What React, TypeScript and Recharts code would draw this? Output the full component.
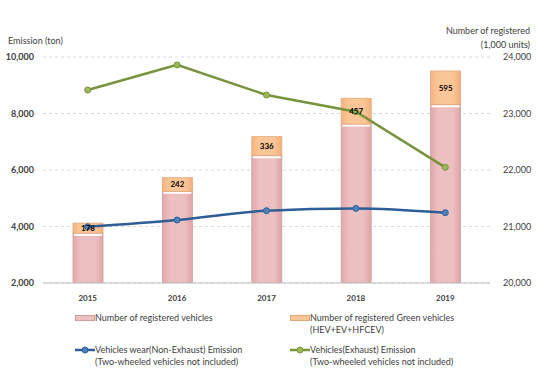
// Vehicle emission vs. registered vehicles (combo chart)
import React from "react";
import {
  ComposedChart,
  Bar,
  Line,
  XAxis,
  YAxis,
  CartesianGrid,
  LabelList,
} from "recharts";

const years = ["2015", "2016", "2017", "2018", "2019"];
// registered vehicles excluding green ones (1,000 units)
const registered = [20882, 21622, 22254, 22812, 23157];
// green vehicles HEV+EV+HFCEV (1,000 units)
const greenVehicles = [178, 242, 336, 457, 595];
// emissions (ton)
const nonExhaust = [3990, 4230, 4560, 4640, 4490];
const exhaust = [8830, 9720, 8655, 8060, 6095];

const leftTicks = [2000, 4000, 6000, 8000, 10000];
const rightTicks = [20000, 21000, 22000, 23000, 24000];

const FONT = "Lato, 'Open Sans', sans-serif";
const TXT = "#404040";

const rows = years.map((y, i) => ({
  year: y,
  registered: registered[i],
  green: greenVehicles[i],
  nonExhaust: nonExhaust[i],
  exhaust: exhaust[i],
}));

const fmt = (v: number) => v.toLocaleString("en-US");

// pink bar with a white bevel line on top
const PinkBar = (props: any) => {
  const { x, y, width, height } = props;
  if (!height || height <= 0) return null;
  return (
    <g>
      <rect x={x} y={y} width={width} height={height} fill="url(#pinkGrad)" stroke="#c8a0a0" strokeWidth={0.8} />
      <line x1={x + 1} x2={x + width - 1} y1={y + 1.5} y2={y + 1.5} stroke="#ffffff" strokeWidth={2} />
    </g>
  );
};

const OrangeBar = (props: any) => {
  const { x, y, width, height } = props;
  if (!height || height <= 0) return null;
  return <rect x={x} y={y} width={width} height={height} fill="url(#orangeGrad)" stroke="#e3a878" strokeWidth={0.8} />;
};

function LegendRow({ swatch, lines }: { swatch: React.ReactNode; lines: string[] }) {
  return (
    <div style={{ display: "flex", alignItems: "flex-start" }}>
      <div style={{ width: 20, height: 12, display: "flex", alignItems: "center" }}>{swatch}</div>
      <div style={{ lineHeight: "12px" }}>
        {lines.map((l) => (
          <div key={l}>{l}</div>
        ))}
      </div>
    </div>
  );
}

export default function App() {
  return (
    <div style={{ position: "absolute", left: 0, top: 0, width: 537, height: 377, background: "#fff", fontFamily: FONT, color: TXT }}>
      <div style={{ position: "absolute", left: 8, top: 35, fontSize: 9 }}>Emission (ton)</div>
      <div style={{ position: "absolute", right: 7, top: 24, fontSize: 9, textAlign: "right", lineHeight: "14px" }}>
        Number of registered
        <br />
        (1,000 units)
      </div>
      <ComposedChart
        width={537}
        height={377}
        data={rows}
        margin={{ top: 57, right: 0, bottom: 74, left: 0 }}
        barCategoryGap="33%"
      >
        <defs>
          <linearGradient id="pinkGrad" x1="0" y1="0" x2="1" y2="0">
            <stop offset="0%" stopColor="#e3a8aa" />
            <stop offset="25%" stopColor="#ecbfc0" />
            <stop offset="75%" stopColor="#ecbfc0" />
            <stop offset="100%" stopColor="#dfa3a5" />
          </linearGradient>
          <linearGradient id="orangeGrad" x1="0" y1="0" x2="1" y2="0">
            <stop offset="0%" stopColor="#f6b482" />
            <stop offset="25%" stopColor="#fbc697" />
            <stop offset="75%" stopColor="#fbc697" />
            <stop offset="100%" stopColor="#f3ae7b" />
          </linearGradient>
        </defs>
        <CartesianGrid yAxisId="left" vertical={false} stroke="#d9d9d9" strokeDasharray="3 3" />
        <XAxis
          dataKey="year"
          height={20}
          tickLine={false}
          axisLine={{ stroke: "#bfbfbf" }}
          tickMargin={6}
          tick={{ fontSize: 8, fill: TXT, fontWeight: 700, fontFamily: FONT }}
        />
        <YAxis
          yAxisId="left"
          orientation="left"
          width={43}
          domain={[2000, 10000]}
          ticks={leftTicks}
          tickFormatter={fmt}
          axisLine={false}
          tickLine={false}
          tickMargin={3}
          tick={{ fontSize: 9, fill: TXT, fontWeight: 700, fontFamily: FONT }}
        />
        <YAxis
          yAxisId="right"
          orientation="right"
          width={47}
          domain={[20000, 24000]}
          allowDataOverflow
          ticks={rightTicks}
          tickFormatter={fmt}
          axisLine={false}
          tickLine={false}
          tickMargin={7}
          tick={{ fontSize: 9, fill: TXT, fontFamily: FONT }}
        />
        <Bar yAxisId="right" dataKey="registered" stackId="reg" barSize={30} shape={PinkBar} isAnimationActive={false} />
        <Bar yAxisId="right" dataKey="green" stackId="reg" barSize={30} shape={OrangeBar} isAnimationActive={false}>
          <LabelList dataKey="green" position="center" fontSize={8} fontWeight={700} fill="#000" fontFamily={FONT} />
        </Bar>
        <Line
          yAxisId="left"
          type="monotone"
          dataKey="nonExhaust"
          stroke="#2f5e97"
          strokeWidth={2.5}
          dot={{ r: 3, fill: "#4f81bd", stroke: "#2f5e97", strokeWidth: 1 }}
          isAnimationActive={false}
        />
        <Line
          yAxisId="left"
          type="linear"
          dataKey="exhaust"
          stroke="#77933c"
          strokeWidth={2.5}
          dot={{ r: 3, fill: "#9bbb59", stroke: "#77933c", strokeWidth: 1 }}
          isAnimationActive={false}
        />
      </ComposedChart>
      <div
        style={{
          position: "absolute",
          left: 75,
          top: 312,
          fontSize: 9,
          display: "grid",
          gridTemplateColumns: "215px 230px",
          rowGap: 8,
        }}
      >
        <LegendRow
          swatch={<div style={{ width: 18, height: 4, background: "#ecbfc0", border: "1px solid #c8a0a0" }} />}
          lines={["Number of registered vehicles"]}
        />
        <LegendRow
          swatch={<div style={{ width: 18, height: 4, background: "#fbc697", border: "1px solid #e3a878" }} />}
          lines={["Number of registered Green vehicles", "(HEV+EV+HFCEV)"]}
        />
        <LegendRow
          swatch={
            <svg width={20} height={8}>
              <line x1={0} x2={20} y1={4} y2={4} stroke="#2f5e97" strokeWidth={2.5} />
              <circle cx={10} cy={4} r={3} fill="#4f81bd" stroke="#2f5e97" />
            </svg>
          }
          lines={["Vehicles wear(Non-Exhaust) Emission", "(Two-wheeled vehicles not included)"]}
        />
        <LegendRow
          swatch={
            <svg width={20} height={8}>
              <line x1={0} x2={20} y1={4} y2={4} stroke="#77933c" strokeWidth={2.5} />
              <circle cx={10} cy={4} r={3} fill="#9bbb59" stroke="#77933c" />
            </svg>
          }
          lines={["Vehicles(Exhaust) Emission", "(Two-wheeled vehicles not included)"]}
        />
      </div>
    </div>
  );
}
